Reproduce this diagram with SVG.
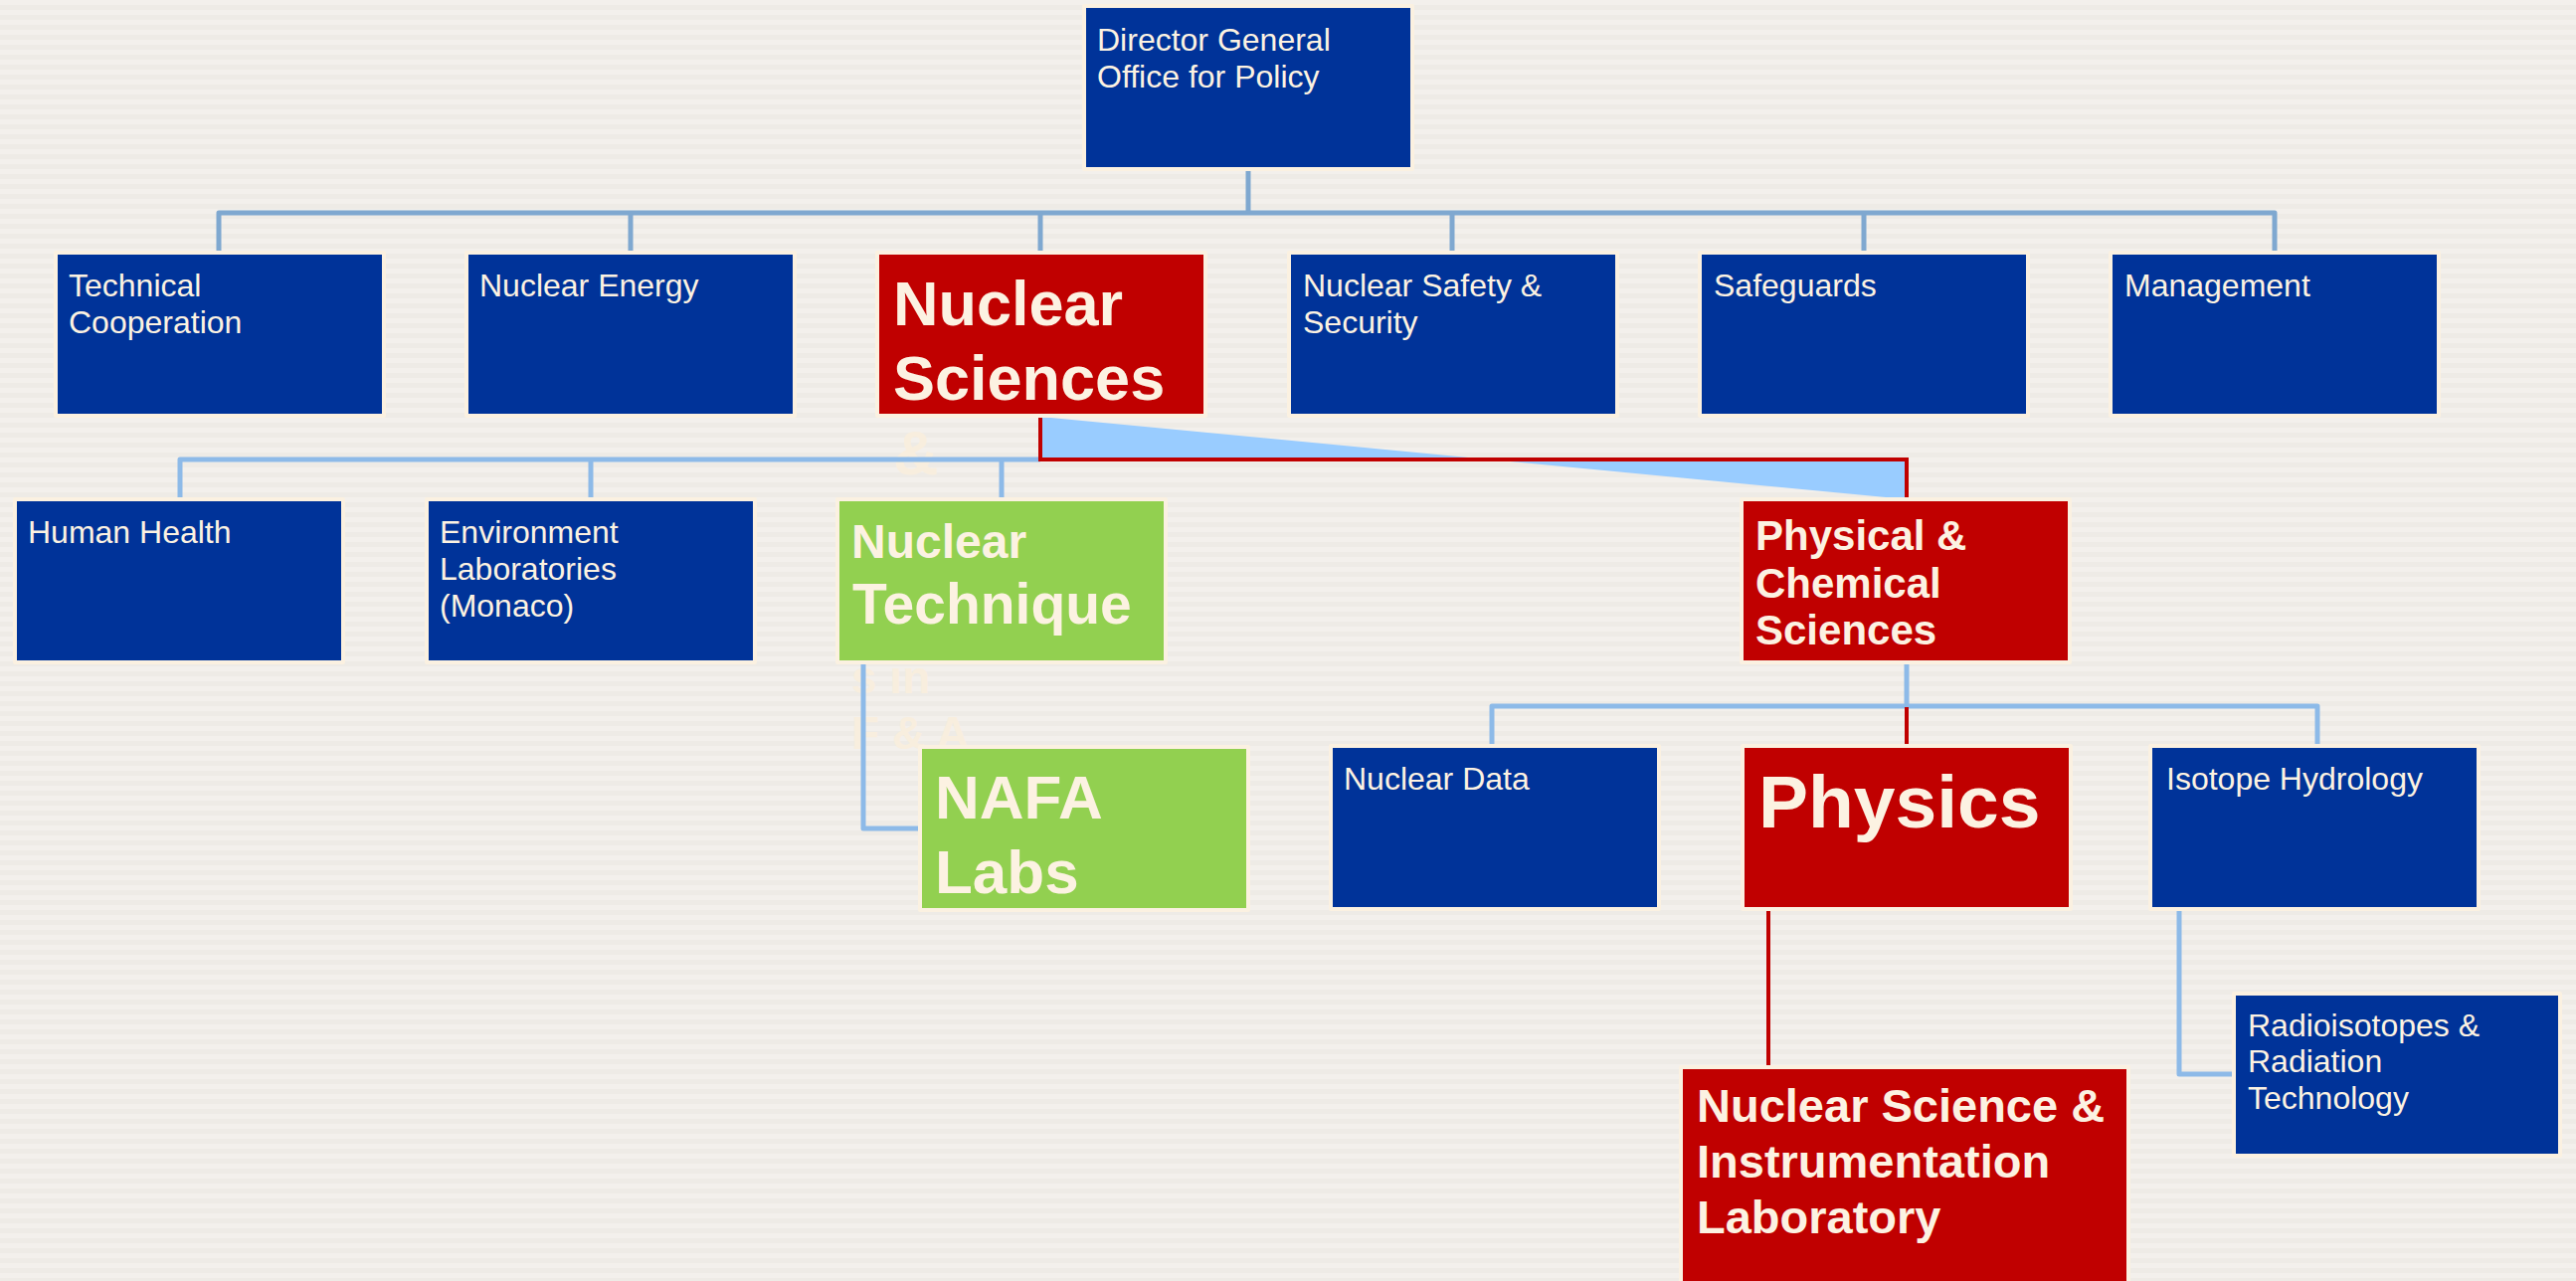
<svg xmlns="http://www.w3.org/2000/svg" width="2590" height="1288" viewBox="0 0 2590 1288">
<defs>
<pattern id="stripes" width="20" height="10" patternUnits="userSpaceOnUse">
<rect width="20" height="10" fill="#F3F0EC"/>
<rect y="5" width="20" height="5" fill="#EEEBE6"/>
</pattern>
<style>
.box{stroke:#FBF1E1;stroke-width:4;stroke-linejoin:round}
.blue{fill:#003399}
.red{fill:#C00000}
.green{fill:#92D050}
.t{font-family:"Liberation Sans",Arial,sans-serif;fill:#FCF2E2;font-size:32px}
.b{font-weight:bold}
.faint{font-family:"Liberation Sans",Arial,sans-serif;fill:#F8EEDE;font-weight:bold}
.c1{fill:none;stroke:#7FA8D0;stroke-width:5;stroke-linejoin:round}
.c2{fill:none;stroke:#8DBAE8;stroke-width:5;stroke-linejoin:round}
.cr{fill:none;stroke:#C00000;stroke-width:4;stroke-linejoin:miter}
</style>
</defs>
<rect width="2590" height="1288" fill="url(#stripes)"/>

<!-- overflow texts (faint, behind boxes) -->
<text class="faint" x="898" y="477" style="font-size:63px">&amp;</text>
<text class="faint" x="856" y="697" style="font-size:46px">s in</text>
<text class="faint" x="856" y="753" style="font-size:46px">F &amp; A</text>

<g id="connectors">
<path class="c1" d="M1255,168 V214"/>
<path class="c1" d="M220,256 V214 H2287 V256"/>
<path class="c1" d="M634,214 V256 M1460,214 V256 M1874,214 V256 M1046,214 V256"/>
<path class="c2" d="M181,504 V462 H1046"/>
<path class="c2" d="M594,462 V504 M1007,462 V504"/>
<polygon points="1046,419 1917,502 1917,462 1046,462" fill="#99CCFF"/>
<path class="cr" d="M1046,418 V462 H1917 V504"/>
<path class="c2" d="M868,665 V833 H927"/>
<path class="c2" d="M1917,665 V710"/>
<path class="c2" d="M1500,752 V710 H2330 V752"/>
<path class="cr" d="M1917,711 V752"/>
<path class="cr" d="M1778,914 V1075"/>
<path class="c2" d="M2191,914 V1080 H2248"/>
</g>

<g id="director">
<rect class="box blue" x="1090" y="6" width="330" height="164"/>
<text class="t" x="1103" y="51">Director General</text>
<text class="t" x="1103" y="88">Office for Policy</text>
</g>

<g id="technical-cooperation">
<rect class="box blue" x="56" y="254" width="330" height="164"/>
<text class="t" x="69" y="298">Technical</text>
<text class="t" x="69" y="335">Cooperation</text>
</g>
<g id="nuclear-energy">
<rect class="box blue" x="469" y="254" width="330" height="164"/>
<text class="t" x="482" y="298">Nuclear Energy</text>
</g>
<g id="nuclear-sciences">
<rect class="box red" x="882" y="254" width="330" height="164"/>
<text class="t b" x="898" y="327" style="font-size:63px">Nuclear</text>
<text class="t b" x="898" y="402" style="font-size:63px">Sciences</text>
</g>
<g id="nuclear-safety">
<rect class="box blue" x="1296" y="254" width="330" height="164"/>
<text class="t" x="1310" y="298">Nuclear Safety &amp;</text>
<text class="t" x="1310" y="335">Security</text>
</g>
<g id="safeguards">
<rect class="box blue" x="1709" y="254" width="330" height="164"/>
<text class="t" x="1723" y="298">Safeguards</text>
</g>
<g id="management">
<rect class="box blue" x="2122" y="254" width="330" height="164"/>
<text class="t" x="2136" y="298">Management</text>
</g>

<g id="human-health">
<rect class="box blue" x="15" y="502" width="330" height="164"/>
<text class="t" x="28" y="546">Human Health</text>
</g>
<g id="environment">
<rect class="box blue" x="429" y="502" width="330" height="164"/>
<text class="t" x="442" y="546">Environment</text>
<text class="t" x="442" y="583">Laboratories</text>
<text class="t" x="442" y="620">(Monaco)</text>
</g>
<g id="nuclear-technique">
<rect class="box green" x="842" y="502" width="330" height="164"/>
<text class="t b" x="856" y="561" style="font-size:48px">Nuclear</text>
<text class="t b" x="857" y="627" style="font-size:57px">Technique</text>
</g>
<g id="physical-chemical">
<rect class="box red" x="1751" y="502" width="330" height="164"/>
<text class="t b" x="1765" y="553" style="font-size:42px">Physical &amp;</text>
<text class="t b" x="1765" y="601" style="font-size:42px">Chemical</text>
<text class="t b" x="1765" y="648" style="font-size:42px">Sciences</text>
</g>

<g id="nafa-labs">
<rect class="box green" x="925" y="751" width="330" height="164"/>
<text class="t b" x="940" y="823" style="font-size:62px">NAFA</text>
<text class="t b" x="940" y="898" style="font-size:62px">Labs</text>
</g>
<g id="nuclear-data">
<rect class="box blue" x="1338" y="750" width="330" height="164"/>
<text class="t" x="1351" y="794">Nuclear Data</text>
</g>
<g id="physics">
<rect class="box red" x="1752" y="750" width="330" height="164"/>
<text class="t b" x="1768" y="832" style="font-size:75px">Physics</text>
</g>
<g id="isotope-hydrology">
<rect class="box blue" x="2162" y="750" width="330" height="164"/>
<text class="t" x="2178" y="794">Isotope Hydrology</text>
</g>

<g id="radioisotopes">
<rect class="box blue" x="2246" y="999" width="328" height="163"/>
<text class="t" x="2260" y="1042">Radioisotopes &amp;</text>
<text class="t" x="2260" y="1078">Radiation</text>
<text class="t" x="2260" y="1115">Technology</text>
</g>
<g id="nsil">
<rect class="box red" x="1690" y="1073" width="450" height="240"/>
<text class="t b" x="1706" y="1128" style="font-size:47px">Nuclear Science &amp;</text>
<text class="t b" x="1706" y="1184" style="font-size:47px">Instrumentation</text>
<text class="t b" x="1706" y="1240" style="font-size:47px">Laboratory</text>
</g>
</svg>
